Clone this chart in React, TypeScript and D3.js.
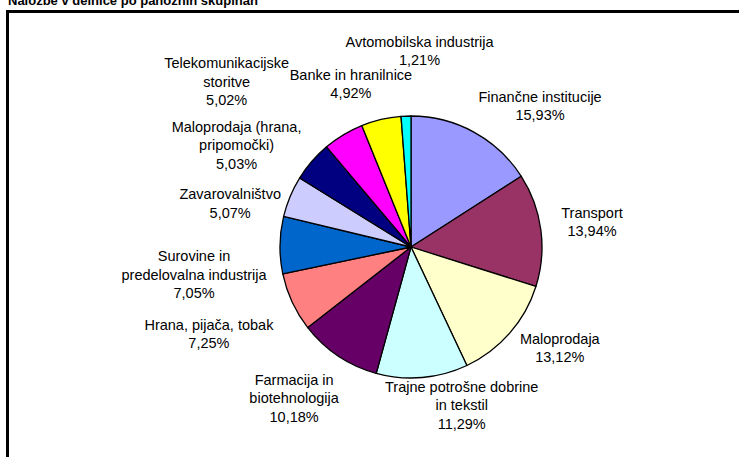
import React from "react";
import * as d3 from "d3";

const title = "Naložbe v delnice po panožnih skupinah";

const categories: string[][] = [
  ["Finančne institucije"],
  ["Transport"],
  ["Maloprodaja"],
  ["Trajne potrošne dobrine", "in tekstil"],
  ["Farmacija in", "biotehnologija"],
  ["Hrana, pijača, tobak"],
  ["Surovine in", "predelovalna industrija"],
  ["Zavarovalništvo"],
  ["Maloprodaja (hrana,", "pripomočki)"],
  ["Telekomunikacijske", "storitve"],
  ["Banke in hranilnice"],
  ["Avtomobilska industrija"],
];

const values: number[] = [15.93, 13.94, 13.12, 11.29, 10.18, 7.25, 7.05, 5.07, 5.03, 5.02, 4.92, 1.21];

const colors: string[] = [
  "#9999FF", "#993366", "#FFFFCC", "#CCFFFF", "#660066", "#FF8080",
  "#0066CC", "#CCCCFF", "#000080", "#FF00FF", "#FFFF00", "#00FFFF",
];

// manual label adjustments (as dragged in the original chart), relative to label arc centroid
const labelNudge: [number, number][] = [
  [47, 9], [11.5, -2.5], [20, -11.5], [36, -12], [-22, 9], [-47, 15],
  [-46, 30], [-23, 22], [-45, 10], [-96, -19], [-21, 3.5], [15, -25],
];

const W = 739;
const H = 457;
const cx = 411;
const cy = 247;
const R = 131;
const fontSize = 14.5;
const lineH = 18.5;

export default function App() {
  const pie = d3.pie<number>().sort(null).value((d) => d)(values);
  const arc = d3.arc<d3.PieArcDatum<number>>().innerRadius(0).outerRadius(R);
  const labelArc = d3.arc<d3.PieArcDatum<number>>().innerRadius(R + 40).outerRadius(R + 40);
  const fmt = (v: number) => v.toFixed(2).replace(".", ",") + "%";

  return (
    <svg
      width={W}
      height={H}
      style={{ position: "absolute", left: 0, top: 0, background: "#fff" }}
      fontFamily="Arial, 'Liberation Sans', sans-serif"
    >
      <rect x={0} y={0} width={W} height={H} fill="#fff" />
      <text x={8} y={5} fontSize={13} fontWeight="bold" fill="#000">
        {title}
      </text>
      <rect x={7.5} y={11.5} width={W + 20} height={H + 20} fill="none" stroke="#000" strokeWidth={3} />
      <g transform={`translate(${cx},${cy})`}>
        {pie.map((p, i) => (
          <path key={i} d={arc(p) || ""} fill={colors[i]} stroke="#000" strokeWidth={1.3} strokeLinejoin="round" />
        ))}
        {pie.map((p, i) => {
          const [lx, ly] = labelArc.centroid(p);
          const lines = [...categories[i], fmt(values[i])];
          const x = lx + labelNudge[i][0];
          const y0 = ly + labelNudge[i][1] - ((lines.length - 1) * lineH) / 2;
          return (
            <text key={"l" + i} textAnchor="middle" fontSize={fontSize} fill="#000">
              {lines.map((t, j) => (
                <tspan key={j} x={x} y={y0 + j * lineH} dy="0.35em">
                  {t}
                </tspan>
              ))}
            </text>
          );
        })}
      </g>
    </svg>
  );
}
